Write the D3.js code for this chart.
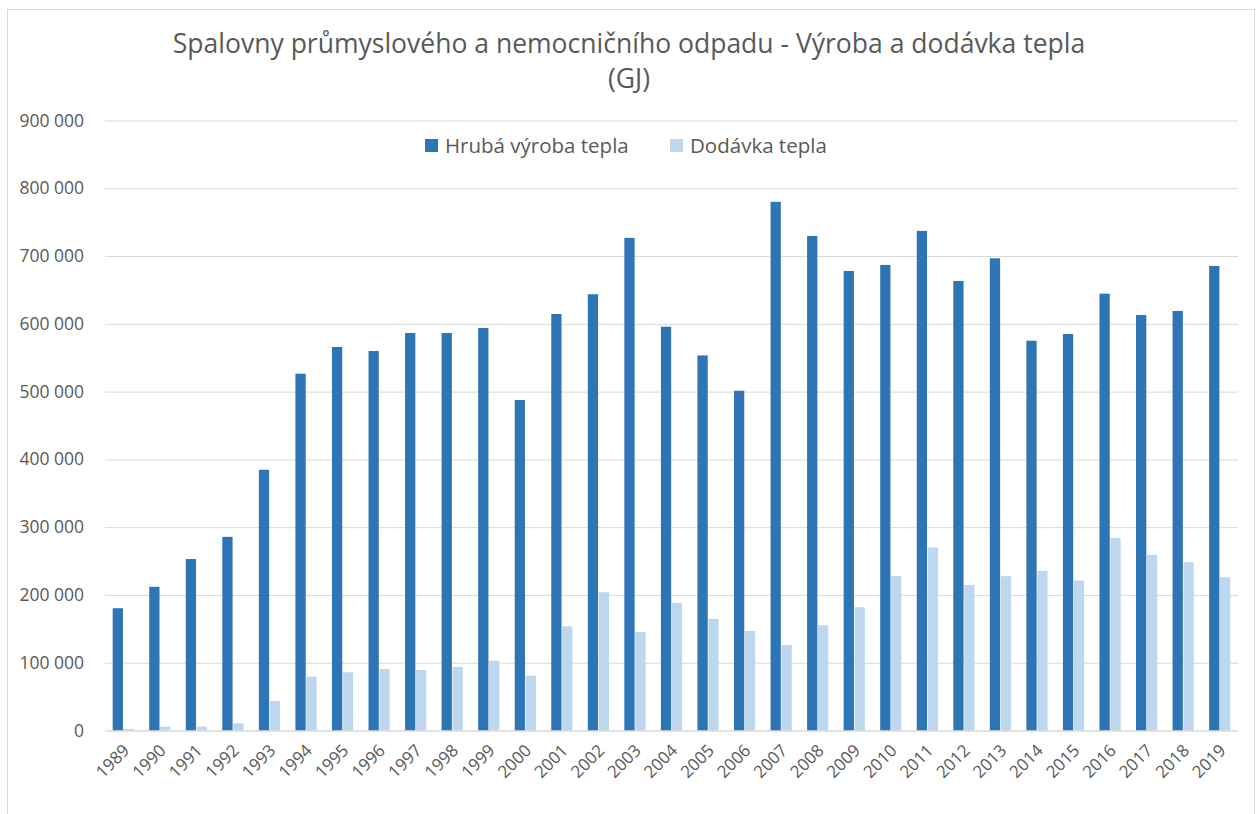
<!DOCTYPE html>
<html>
<head>
<meta charset="utf-8">
<script src="https://cdn.jsdelivr.net/npm/d3@7"></script>
<style>
  body { margin: 0; background: #fff; }
  svg text { font-family: "Open Sans", "Noto Sans", sans-serif; fill: #595959; }
</style>
</head>
<body>
<div class="center"></div>
<script>

var years = ["1989","1990","1991","1992","1993","1994","1995","1996","1997","1998",
             "1999","2000","2001","2002","2003","2004","2005","2006","2007","2008",
             "2009","2010","2011","2012","2013","2014","2015","2016","2017","2018","2019"];

var hrubaVyroba = [180400, 212000, 253000, 285700, 384700, 526400, 565800, 559900, 586500, 586500,
                   593900, 487600, 614500, 643700, 726800, 595800, 553400, 501300, 780000, 729700,
                   678000, 686900, 737100, 663300, 696700, 575100, 585000, 644500, 613100, 619000, 685400];

var dodavka = [2200, 5600, 5600, 10600, 43600, 79500, 86000, 90800, 89300, 93800,
               103100, 80900, 153800, 204000, 145400, 188300, 164600, 146900, 126200, 155300,
               181900, 227700, 270000, 214800, 227700, 235500, 221200, 284200, 259100, 248300, 226200];

var seriesNames = ["Hrubá výroba tepla", "Dodávka tepla"];
var yTicks = [0, 100000, 200000, 300000, 400000, 500000, 600000, 700000, 800000, 900000];

chart = new bar_chart(d3.select('.center'));

function bar_chart(container){

  var width = 1257,
      height = 814,
      left = 105,
      right = 1238,
      top = 120.5,
      bottom = 730.5;

  var colors = ["#2E75B6", "#BDD7EE"];

  var svg = container.append("svg")
      .attr("width", width)
      .attr("height", height);

  // chart frame
  svg.append("rect")
      .attr("x", 7.5).attr("y", 9.5)
      .attr("width", 1247).attr("height", 830)
      .attr("fill", "none")
      .attr("stroke", "#D9D9D9");

  // title, fitted to the width of the original
  var t1 = svg.append("text")
      .text("Spalovny průmyslového a nemocničního odpadu - Výroba a dodávka tepla")
      .attr("x", 629).attr("y", 53)
      .attr("font-size", "24px")
      .style("text-anchor", "middle");
  var fs = 24 * 913 / t1.node().getComputedTextLength();
  t1.attr("font-size", fs + "px");
  svg.append("text")
      .text("(GJ)")
      .attr("x", 629).attr("y", 88)
      .attr("font-size", fs + "px")
      .style("text-anchor", "middle");

  var x = d3.scaleBand()
      .domain(years)
      .range([left, right])
      .paddingInner(0.42)
      .paddingOuter(0.21);

  var xs = d3.scaleBand()
      .domain([0, 1])
      .range([0, x.bandwidth()])
      .paddingInner(0.06);

  var y = d3.scaleLinear()
      .domain([0, 900000])
      .range([bottom, top]);

  var fmt = function(d){ return d3.format(",")(d).replace(/,/g, " "); };

  // gridlines + y labels
  var yAxis = svg.append("g")
      .attr("transform", "translate(" + left + ",0)")
      .call(d3.axisLeft(y).tickValues(yTicks).tickSize(-(right - left)).tickFormat(fmt));
  yAxis.select(".domain").remove();
  yAxis.selectAll("line").attr("stroke", "#D9D9D9");
  yAxis.selectAll("text")
      .attr("x", -21)
      .attr("font-size", "17.5px")
      .attr("fill", "#595959");

  // bars
  var seriesData = [hrubaVyroba, dodavka];
  seriesData.forEach(function(vals, si){
    svg.append("g").selectAll("rect")
        .data(vals)
        .enter().append("rect")
        .attr("x", function(d, i){ return x(years[i]) + xs(si); })
        .attr("y", function(d){ return y(d); })
        .attr("width", xs.bandwidth())
        .attr("height", function(d){ return y(0) - y(d); })
        .attr("fill", colors[si]);
  });

  // x axis
  var xAxis = svg.append("g")
      .attr("transform", "translate(0," + bottom + ")")
      .call(d3.axisBottom(x).tickSize(0));
  xAxis.select(".domain").attr("stroke", "#D9D9D9");
  xAxis.selectAll("text")
      .attr("font-size", "17px")
      .attr("fill", "#595959")
      .attr("dy", null)
      .attr("transform", "translate(5,19) rotate(-45)")
      .style("text-anchor", "end");

  // legend
  var legendX = [425, 670];
  var legend = svg.selectAll(".legend")
      .data(seriesNames)
      .enter().append("g")
      .attr("class", "legend");
  legend.append("rect")
      .attr("x", function(d, i){ return legendX[i]; })
      .attr("y", 139)
      .attr("width", 13)
      .attr("height", 13)
      .attr("fill", function(d, i){ return colors[i]; });
  legend.append("text")
      .text(function(d){ return d; })
      .attr("x", function(d, i){ return legendX[i] + 20; })
      .attr("y", 152.5)
      .attr("font-size", "20.5px");
}

</script>
</body>
</html>
